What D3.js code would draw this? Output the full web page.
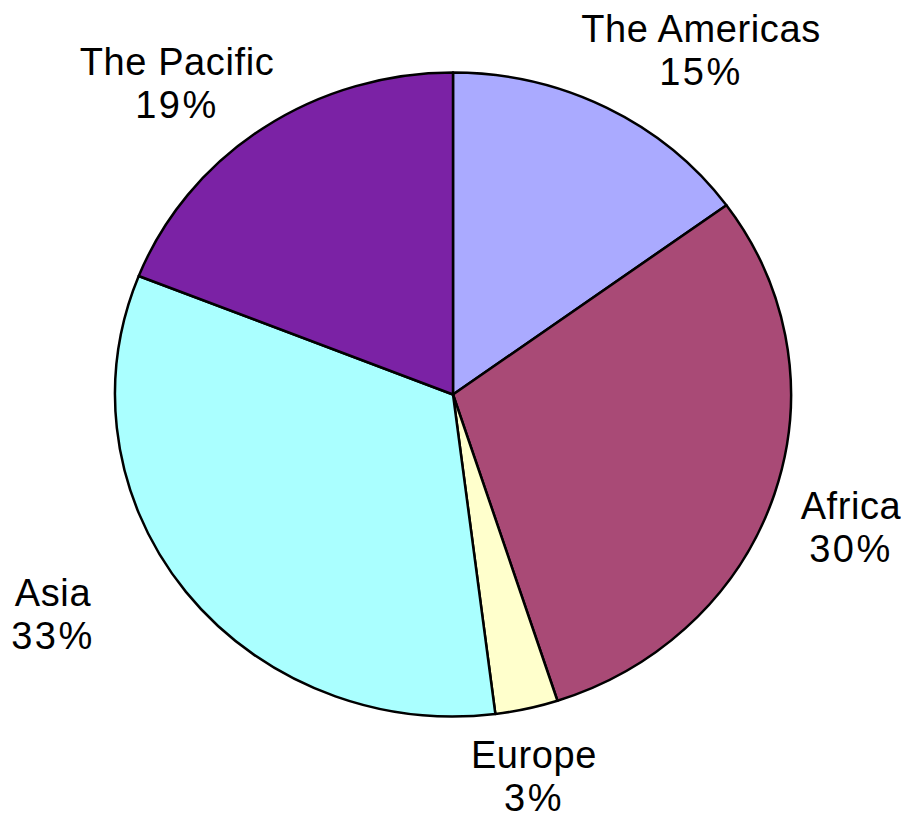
<!DOCTYPE html>
<html>
<head>
<meta charset="utf-8">
<script src="https://cdn.jsdelivr.net/npm/d3@7"></script>
<style>
  html, body { margin: 0; padding: 0; background: #ffffff; }
  svg { display: block; }
  text { font-family: "Liberation Sans", Arial, sans-serif; fill: #000; }
</style>
</head>
<body>
<svg id="chart" width="901" height="816"></svg>
<script>
// Regional shares, clockwise from 12 o'clock
const regions = ["The Americas", "Africa", "Europe", "Asia", "The Pacific"];
const shares = [15, 30, 3, 33, 19];
const colors = ["#aaaaff", "#a94a76", "#ffffcc", "#aaffff", "#7b22a5"];

// Label anchor points (center of the two-line label, first baseline)
const labelPos = [
  [701, 42],
  [851, 519],
  [534, 768],
  [53, 606],
  [177, 75]
];

const W = 901, H = 816;
const cx = 453, cy = 394.5;
const ry = 322, rx = 338;

const svg = d3.select("#chart");

const pie = d3.pie().sort(null).value(d => d)(shares);
const arc = d3.arc().innerRadius(0).outerRadius(ry);

const g = svg.append("g")
  .attr("transform", `translate(${cx},${cy}) scale(${rx / ry},1)`);

g.selectAll("path")
  .data(pie)
  .join("path")
  .attr("d", arc)
  .attr("fill", (d, i) => colors[i])
  .attr("stroke", "#000")
  .attr("stroke-width", 2.5)
  .attr("stroke-linejoin", "round")
  .attr("vector-effect", "non-scaling-stroke");

const fmt = v => `${v}%`;

const labels = svg.append("g").selectAll("text")
  .data(pie)
  .join("text")
  .attr("text-anchor", "middle")
  .attr("font-size", 38)
  .attr("x", (d, i) => labelPos[i][0])
  .attr("y", (d, i) => labelPos[i][1]);

labels.append("tspan")
  .attr("x", (d, i) => labelPos[i][0])
  .attr("letter-spacing", 0.6)
  .text((d, i) => regions[i]);

labels.append("tspan")
  .attr("x", (d, i) => labelPos[i][0])
  .attr("dy", 43)
  .attr("letter-spacing", 2.5)
  .text(d => fmt(d.data));
</script>
</body>
</html>
